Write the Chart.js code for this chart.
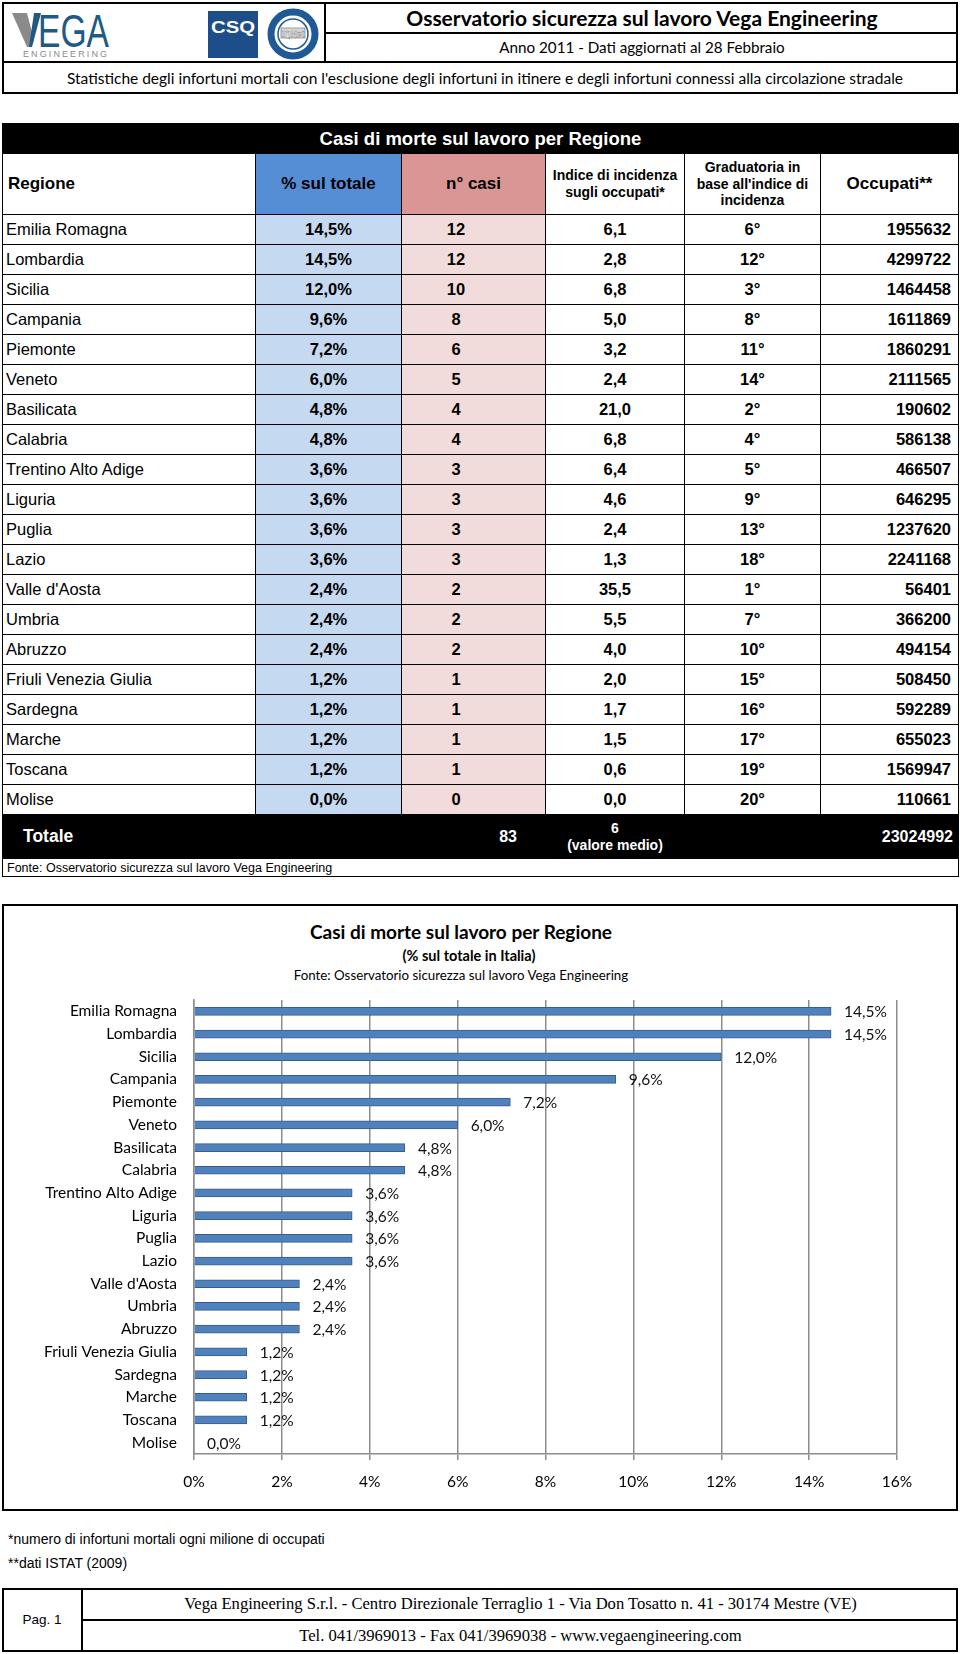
<!DOCTYPE html>
<html>
<head>
<meta charset="utf-8">
<script src="https://cdn.jsdelivr.net/npm/chart.js"></script>
<style>
  body { margin:0; width:960px; height:1654px; position:relative; background:#fff; font-family:"Liberation Sans", Arial, sans-serif; overflow:hidden; }
  .abs { position:absolute; }
  .box { position:absolute; border:2px solid #000; box-sizing:border-box; }
  .hl { position:absolute; height:0; border-top:2px solid #000; }
  .vl { position:absolute; width:0; border-left:2px solid #000; }
  .cal { font-family:"Lato", "Open Sans", sans-serif; color:#000; }
  #tab { position:absolute; left:2px; top:123px; width:956px; border-collapse:collapse; table-layout:fixed; font-size:16.5px; }
  #tab td { border:1.5px solid #000; padding:0 3px; white-space:nowrap; overflow:hidden; }
  #tab tr.dato { height:30px; }
  #tab .b { font-weight:bold; text-align:center; }
  .pct { background:#C5D9F1; }
  .cas { background:#F2DCDB; padding-right:38px !important; }
  .occ { text-align:right !important; padding-right:7px !important; }
  .nero td { background:#000; color:#fff; border-color:#000 !important; }
</style>
</head>
<body>

<!-- intestazione -->
<div class="box" style="left:2px;top:2px;width:956px;height:92px;"></div>
<div class="vl" style="left:324px;top:2px;height:60px;"></div>
<div class="hl" style="left:324px;top:32px;width:634px;"></div>
<div class="hl" style="left:2px;top:61px;width:956px;"></div>
<div class="abs cal" style="left:326px;top:2px;width:632px;height:31px;line-height:31px;text-align:center;font-size:21px;font-weight:bold;">Osservatorio sicurezza sul lavoro Vega Engineering</div>
<div class="abs cal" style="left:326px;top:33px;width:632px;height:29px;line-height:29px;text-align:center;font-size:15.2px;">Anno 2011 - Dati aggiornati al 28 Febbraio</div>
<div class="abs cal" style="left:2px;top:63px;width:966px;height:31px;line-height:30px;text-align:center;font-size:15.5px;">Statistiche degli infortuni mortali con l'esclusione degli infortuni in itinere e degli infortuni connessi alla circolazione stradale</div>

<svg class="abs" style="left:0;top:0" width="324" height="62">
  <polygon points="12,13 27,13 34,40 31,47 27,47" fill="#8a8a8a"/>
  <polygon points="34,13 41,13 32,47 29,47" fill="#1E5A85"/>
  <text x="38" y="47" font-family="Liberation Sans" font-size="46" fill="#1E5A85" textLength="71" lengthAdjust="spacingAndGlyphs">EGA</text>
  <text x="23" y="57" font-family="Liberation Sans" font-size="9" fill="#8a8a8a" textLength="84" lengthAdjust="spacing">ENGINEERING</text>
  <rect x="208" y="11" width="50" height="47" fill="#1D4E89"/>
  <text x="233" y="33" font-family="Liberation Sans" font-weight="bold" font-size="17" fill="#fff" text-anchor="middle" textLength="44" lengthAdjust="spacingAndGlyphs">CSQ</text>
  <circle cx="293" cy="34" r="22" fill="#fff" stroke="#1F5A96" stroke-width="7"/>
  <circle cx="293" cy="34" r="15" fill="#fff" stroke="#1F5A96" stroke-width="1.5"/>
  <rect x="281" y="28" width="24" height="10" fill="#d8d8d8" stroke="#888" stroke-width="0.8"/>
  <text x="293" y="36.5" font-family="Liberation Sans" font-weight="bold" font-size="8.5" fill="#fff" stroke="#555" stroke-width="0.3" text-anchor="middle">IQNet</text>
</svg>

<table id="tab">
  <colgroup><col style="width:253px"><col style="width:146px"><col style="width:144px"><col style="width:139px"><col style="width:136px"><col style="width:138px"></colgroup>
  <tbody id="corpo"></tbody>
</table>

<!-- grafico -->
<div class="box" style="left:2px;top:904px;width:956px;height:607px;">
  <div class="abs cal" style="left:0;top:14px;width:914px;text-align:center;font-size:19px;font-weight:bold;">Casi di morte sul lavoro per Regione</div>
  <div class="abs cal" style="left:0;top:41px;width:930px;text-align:center;font-size:14.5px;font-weight:bold;">(% sul totale in Italia)</div>
  <div class="abs cal" style="left:0;top:61px;width:914px;text-align:center;font-size:13.3px;">Fonte: Osservatorio sicurezza sul lavoro Vega Engineering</div>
  <canvas id="grafico" width="952" height="603" style="position:absolute;left:0;top:0;"></canvas>
</div>

<div class="abs" style="left:8px;top:1531px;font-family:'Liberation Sans Narrow','Liberation Sans';font-size:14px;">*numero di infortuni mortali ogni milione di occupati</div>
<div class="abs" style="left:8px;top:1555px;font-family:'Liberation Sans Narrow','Liberation Sans';font-size:14px;">**dati ISTAT (2009)</div>

<!-- pie di pagina -->
<div class="box" style="left:2px;top:1588px;width:956px;height:64px;"></div>
<div class="vl" style="left:81px;top:1588px;height:64px;"></div>
<div class="hl" style="left:81px;top:1619px;width:877px;"></div>
<div class="abs" style="left:2px;top:1588px;width:80px;height:64px;line-height:64px;text-align:center;font-size:13.5px;">Pag. 1</div>
<div class="abs" style="left:83px;top:1588px;width:875px;height:32px;line-height:32px;text-align:center;font-family:'Liberation Serif';font-size:16.6px;">Vega Engineering S.r.l. - Centro Direzionale Terraglio 1 - Via Don Tosatto n. 41 - 30174 Mestre (VE)</div>
<div class="abs" style="left:83px;top:1620px;width:875px;height:32px;line-height:32px;text-align:center;font-family:'Liberation Serif';font-size:16.6px;">Tel. 041/3969013 - Fax 041/3969038 - www.vegaengineering.com</div>

<script>
const regioni = ['Emilia Romagna', 'Lombardia', 'Sicilia', 'Campania', 'Piemonte', 'Veneto', 'Basilicata', 'Calabria',
  'Trentino Alto Adige', 'Liguria', 'Puglia', 'Lazio', "Valle d'Aosta", 'Umbria', 'Abruzzo', 'Friuli Venezia Giulia',
  'Sardegna', 'Marche', 'Toscana', 'Molise'];
const percentuali = [14.5, 14.5, 12.0, 9.6, 7.2, 6.0, 4.8, 4.8, 3.6, 3.6, 3.6, 3.6, 2.4, 2.4, 2.4, 1.2, 1.2, 1.2, 1.2, 0.0];
const nCasi = [12, 12, 10, 8, 6, 5, 4, 4, 3, 3, 3, 3, 2, 2, 2, 1, 1, 1, 1, 0];
const indice = [6.1, 2.8, 6.8, 5.0, 3.2, 2.4, 21.0, 6.8, 6.4, 4.6, 2.4, 1.3, 35.5, 5.5, 4.0, 2.0, 1.7, 1.5, 0.6, 0.0];
const graduatoria = [6, 12, 3, 8, 11, 14, 2, 4, 5, 9, 13, 18, 1, 7, 10, 15, 16, 17, 19, 20];
const occupati = [1955632, 4299722, 1464458, 1611869, 1860291, 2111565, 190602, 586138, 466507, 646295, 1237620,
  2241168, 56401, 366200, 494154, 508450, 592289, 655023, 1569947, 110661];
const totaleCasi = 83;
const indiceMedio = 6;
const totaleOccupati = 23024992;
const xTicks = [0, 2, 4, 6, 8, 10, 12, 14, 16];

const virgola = v => v.toFixed(1).replace('.', ',');

// tabella
let html = '<tr class="nero" style="height:30px"><td colspan="6" style="text-align:center;font-weight:bold;font-size:18.5px;">Casi di morte sul lavoro per Regione</td></tr>';
html += '<tr style="height:61px;font-weight:bold;">' +
  '<td style="font-size:17px;padding-left:5px;">Regione</td>' +
  '<td style="background:#558ED5;text-align:center;font-size:17px;">% sul totale</td>' +
  '<td style="background:#D99694;text-align:center;font-size:17px;">n° casi</td>' +
  '<td style="text-align:center;font-size:14px;line-height:1.25;">Indice di incidenza<br>sugli occupati*</td>' +
  '<td style="text-align:center;font-size:14px;line-height:1.2;">Graduatoria in<br>base all\'indice di<br>incidenza</td>' +
  '<td style="text-align:center;font-size:17px;">Occupati**</td></tr>';
regioni.forEach((r, i) => {
  html += '<tr class="dato"><td>' + r + '</td>' +
    '<td class="b pct">' + virgola(percentuali[i]) + '%</td>' +
    '<td class="b cas">' + nCasi[i] + '</td>' +
    '<td class="b">' + virgola(indice[i]) + '</td>' +
    '<td class="b">' + graduatoria[i] + '°</td>' +
    '<td class="b occ">' + occupati[i] + '</td></tr>';
});
html += '<tr class="nero" style="height:44px;font-weight:bold;">' +
  '<td style="font-size:17.5px;padding-left:20px;">Totale</td><td></td>' +
  '<td style="text-align:right;padding-right:28px;font-size:16px;">' + totaleCasi + '</td>' +
  '<td style="text-align:center;font-size:14px;line-height:1.15;">' + indiceMedio + '<br>(valore medio)</td><td></td>' +
  '<td style="text-align:right;padding-right:5px;font-size:16px;">' + totaleOccupati + '</td></tr>';
html += '<tr style="height:18px"><td colspan="6" style="font-size:12.5px;padding-left:4px;">Fonte: Osservatorio sicurezza sul lavoro Vega Engineering</td></tr>';
document.getElementById('corpo').innerHTML = html;

// etichette dei valori
const etichette = {
  id: 'etichette',
  afterDatasetsDraw(chart) {
    const ctx = chart.ctx;
    const meta = chart.getDatasetMeta(0);
    ctx.save();
    ctx.font = '15.5px Lato';
    ctx.fillStyle = '#111';
    ctx.textBaseline = 'middle';
    meta.data.forEach((bar, i) => {
      ctx.fillText(virgola(percentuali[i]) + '%', bar.x + 13, bar.y + 1);
    });
    ctx.restore();
  }
};

function disegna() {
  new Chart(document.getElementById('grafico'), {
    type: 'bar',
    data: {
      labels: regioni,
      datasets: [{
        data: percentuali,
        backgroundColor: '#4F81BD',
        borderColor: '#385D8A',
        borderWidth: 1,
        barThickness: 8
      }]
    },
    options: {
      indexAxis: 'y',
      responsive: false,
      animation: false,
      layout: { padding: { top: 94, right: 59, left: 0, bottom: 0 } },
      plugins: { legend: { display: false }, tooltip: { enabled: false } },
      scales: {
        x: {
          min: 0, max: 16,
          afterFit: s => { s.height = 55; },
          afterBuildTicks: s => { s.ticks = xTicks.map(v => ({ value: v })); },
          ticks: { callback: v => v + '%', font: { family: 'Lato', size: 15.5 }, color: '#000', padding: 13, maxRotation: 0 },
          grid: { color: '#8c8c8c', lineWidth: 1.5, tickLength: 6, tickColor: '#8c8c8c' },
          border: { color: '#8c8c8c', width: 1.5 }
        },
        y: {
          afterFit: s => { s.width = 190; },
          ticks: { font: { family: 'Lato', size: 15.5 }, color: '#000', padding: 17 },
          grid: { display: false, drawTicks: false },
          border: { color: '#8c8c8c', width: 1.5 }
        }
      }
    },
    plugins: [etichette]
  });
}

document.fonts.load('15.5px Lato').then(disegna, disegna);
</script>
</body>
</html>
